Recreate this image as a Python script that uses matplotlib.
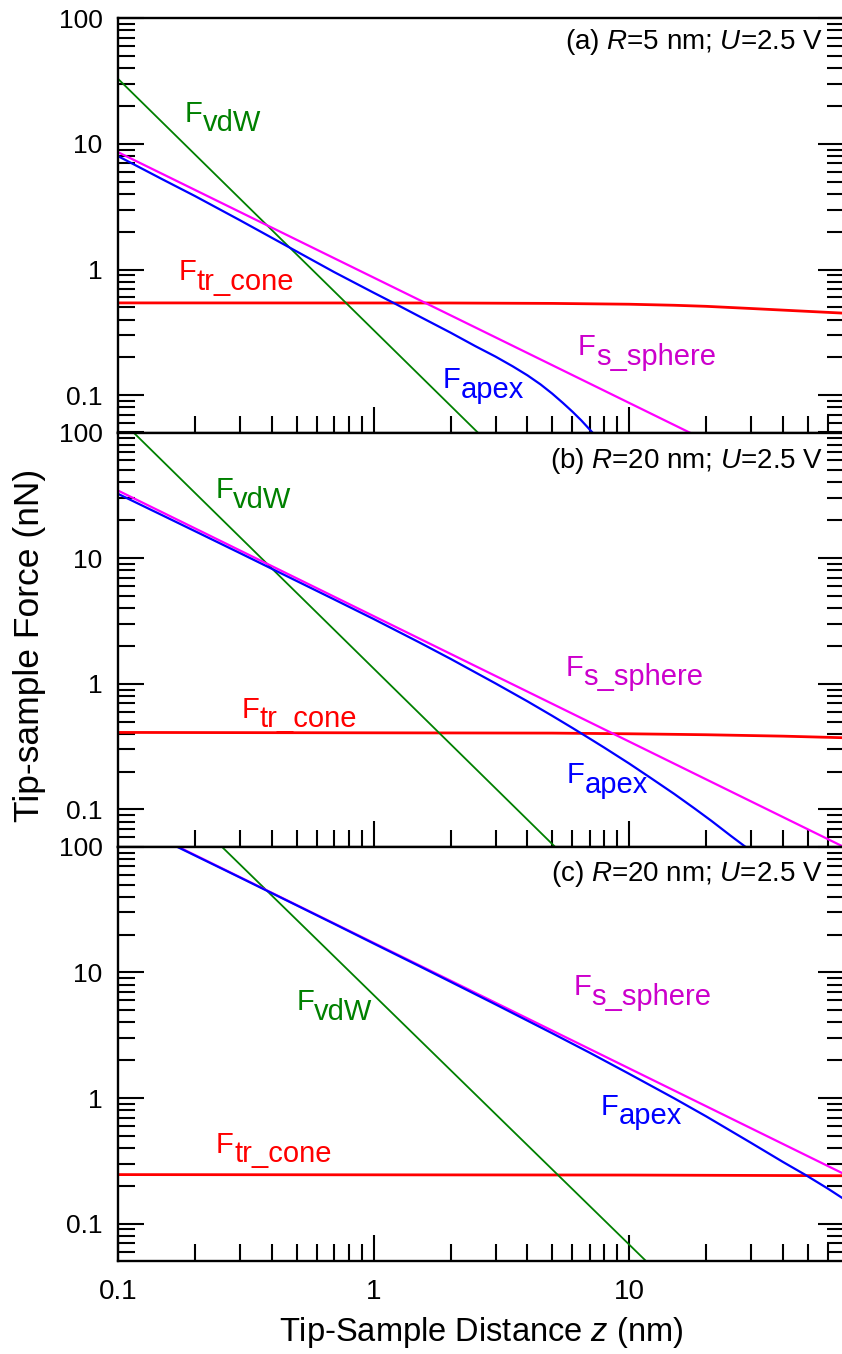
"""Tip-sample force components vs distance, three stacked log-log panels."""
import matplotlib as mpl
import matplotlib.pyplot as plt
from matplotlib.ticker import LogLocator, NullFormatter

mpl.rcParams.update({
    "font.family": ["Liberation Sans", "DejaVu Sans"],
    "mathtext.fontset": "custom",
    "mathtext.rm": "Liberation Sans",
    "mathtext.it": "Liberation Sans:italic",
})

GREEN = "#008000"
BLUE = "#0000FF"
MAGENTA = "#FF00FF"
MAGENTA_TXT = "#CC00CC"
RED = "#FF0000"

# ---- data (z in nm, force in nN) ----
# panel (a)  R=5 nm
za_vdw = [0.1, 2.57]
fa_vdw = [33.0, 0.05]
za_sph = [0.1, 17.4]
fa_sph = [8.6, 0.05]
za_apex = [0.1, 0.15, 0.2, 0.3, 0.48, 0.7, 1.0, 1.21, 1.5, 2.0, 2.5, 3.0,
           3.5, 4.0, 4.5, 5.0, 5.5, 6.0, 6.5, 7.23]
fa_apex = [8.0, 5.2, 3.85, 2.47, 1.46, 0.957, 0.655, 0.537, 0.427, 0.315,
           0.246, 0.203, 0.17, 0.144, 0.122, 0.103, 0.087, 0.074, 0.063, 0.0498]
za_cone = [0.1, 2.0, 5.0, 10.0, 15.0, 20.0, 30.0, 45.0, 69.0]
fa_cone = [0.543, 0.542, 0.538, 0.53, 0.52, 0.51, 0.49, 0.47, 0.45]

# panel (b)  R=20 nm
zb_vdw = [0.115, 5.15]
fb_vdw = [100.0, 0.05]
zb_sph = [0.1, 69.0]
fb_sph = [34.5, 0.0504]
zb_apex = [0.1, 0.15, 0.2, 0.3, 0.5, 0.7, 1.0, 1.5, 2.0, 3.0, 4.0, 5.0, 6.0,
           7.0, 8.0, 10.0, 12.0, 15.0, 18.0, 21.0, 25.0, 29.2]
fb_apex = [32.5, 21.8, 16.4, 10.97, 6.58, 4.70, 3.28, 2.15, 1.58, 1.007, 0.725,
           0.556, 0.445, 0.367, 0.31, 0.232, 0.181, 0.133, 0.102, 0.081,
           0.0616, 0.0486]
zb_cone = [0.1, 5.0, 10.0, 20.0, 40.0, 69.0]
fb_cone = [0.41, 0.405, 0.40, 0.393, 0.383, 0.372]

# panel (c)  R=20 nm (as labelled)
zc_vdw = [0.255, 11.7]
fc_vdw = [100.0, 0.05]
zc_sph = [0.172, 69.0]
fc_sph = [100.0, 0.25]
zc_apex = [0.172, 0.3, 0.5, 0.7, 1.0, 1.5, 2.0, 3.0, 5.0, 7.0, 10.0, 15.0,
           20.0, 30.0, 40.0, 48.9, 60.0, 69.3]
fc_apex = [99.0, 57.0, 34.2, 24.4, 17.0, 11.3, 8.43, 5.57, 3.28, 2.30, 1.56,
           0.996, 0.716, 0.44, 0.31, 0.245, 0.19, 0.157]
zc_cone = [0.1, 10.0, 69.0]
fc_cone = [0.246, 0.244, 0.241]

YTICKS = [0.1, 1, 10, 100]
YTICKLABELS = ["0.1", "1", "10", "100"]
XTICKS = [0.1, 1, 10]
XTICKLABELS = ["0.1", "1", "10"]

LBL = 21  # curve label size


def _flabel(ax, x, y, sub, color):
    # "F" and its subscript are the same size, the subscript just dropped
    ax.annotate("F", (x, y), fontsize=LBL, color=color, va="baseline")
    ax.annotate(sub, (x, y), xytext=(0.62 * LBL, -6.8), textcoords="offset points",
                fontsize=LBL, color=color, va="baseline")


def _style(ax):
    ax.set_xscale("log")
    ax.set_yscale("log")
    ax.set_xlim(0.1, 69.3)
    ax.set_ylim(0.0505, 100)
    ax.set_yticks(YTICKS)
    ax.set_yticklabels(YTICKLABELS)
    ax.set_xticks(XTICKS)
    ax.set_xticklabels(XTICKLABELS)
    ax.xaxis.set_minor_locator(LogLocator(base=10, subs=range(2, 10)))
    ax.yaxis.set_minor_locator(LogLocator(base=10, subs=range(2, 10)))
    ax.xaxis.set_minor_formatter(NullFormatter())
    ax.yaxis.set_minor_formatter(NullFormatter())
    ax.tick_params(which="both", direction="in", left=True, right=True,
                   top=False, bottom=True, width=1.5)
    ax.tick_params(which="major", length=19)
    ax.tick_params(which="minor", length=12)
    ax.tick_params(axis="y", pad=11, labelsize=19)
    ax.tick_params(axis="x", pad=13, labelsize=20)
    for sp in ax.spines.values():
        sp.set_linewidth(1.7)


fig = plt.figure(figsize=(8.42, 13.54), dpi=100)
left = 118 / 842
width = 844 / 842 - left
h = 414.2 / 1354
bottoms = [(1354 - 432.5) / 1354, (1354 - 846.7) / 1354, (1354 - 1261) / 1354]
axes = [fig.add_axes([left, b, width, h]) for b in bottoms]
ax_a, ax_b, ax_c = axes

panels = [
    (ax_a, za_vdw, fa_vdw, za_sph, fa_sph, za_apex, fa_apex, za_cone, fa_cone),
    (ax_b, zb_vdw, fb_vdw, zb_sph, fb_sph, zb_apex, fb_apex, zb_cone, fb_cone),
    (ax_c, zc_vdw, fc_vdw, zc_sph, fc_sph, zc_apex, fc_apex, zc_cone, fc_cone),
]
for ax, zv, fv, zs, fs, zap, fap, zco, fco in panels:
    ax.plot(zco, fco, color=RED, lw=2.0)
    ax.plot(zv, fv, color=GREEN, lw=1.3)
    ax.plot(zs, fs, color=MAGENTA, lw=1.6)
    ax.plot(zap, fap, color=BLUE, lw=1.6)
    _style(ax)

ax_a.tick_params(labelbottom=False)
ax_b.tick_params(labelbottom=False)

# panel titles (right edge at x=823 px, centre a few px under the top spine)
titles = [r"(a) $\mathit{R}$=5 nm; $\mathit{U}$=2.5 V",
          r"(b) $\mathit{R}$=20 nm; $\mathit{U}$=2.5 V",
          r"(c) $\mathit{R}$=20 nm; $\mathit{U}$=2.5 V"]
title_drop = [24, 29, 27]
xr = (823 / 842 - left) / width
for ax, t, d in zip(axes, titles, title_drop):
    ax.text(xr, 1 - d / 414.2, t, transform=ax.transAxes,
            ha="right", va="center", fontsize=20)

# curve labels
_flabel(ax_a, 0.183, 15.0, "vdW", GREEN)
_flabel(ax_a, 0.172, 0.824, "tr_cone", RED)
_flabel(ax_a, 6.31, 0.208, "s_sphere", MAGENTA_TXT)
_flabel(ax_a, 1.87, 0.114, "apex", BLUE)

_flabel(ax_b, 0.240, 30.0, "vdW", GREEN)
_flabel(ax_b, 0.305, 0.538, "tr_cone", RED)
_flabel(ax_b, 5.62, 1.16, "s_sphere", MAGENTA_TXT)
_flabel(ax_b, 5.71, 0.161, "apex", BLUE)

_flabel(ax_c, 0.498, 4.98, "vdW", GREEN)
_flabel(ax_c, 0.242, 0.368, "tr_cone", RED)
_flabel(ax_c, 6.04, 6.56, "s_sphere", MAGENTA_TXT)
_flabel(ax_c, 7.71, 0.74, "apex", BLUE)

fig.text(30 / 842, 1 - 645 / 1354, "Tip-sample Force (nN)", rotation=90,
         ha="center", va="center", fontsize=25.5)
fig.text(481 / 842, 1 - 1333 / 1354, r"Tip-Sample Distance $\mathit{z}$ (nm)",
         ha="center", va="center", fontsize=23.5)

fig.savefig("out.png", dpi=100, facecolor="white")
